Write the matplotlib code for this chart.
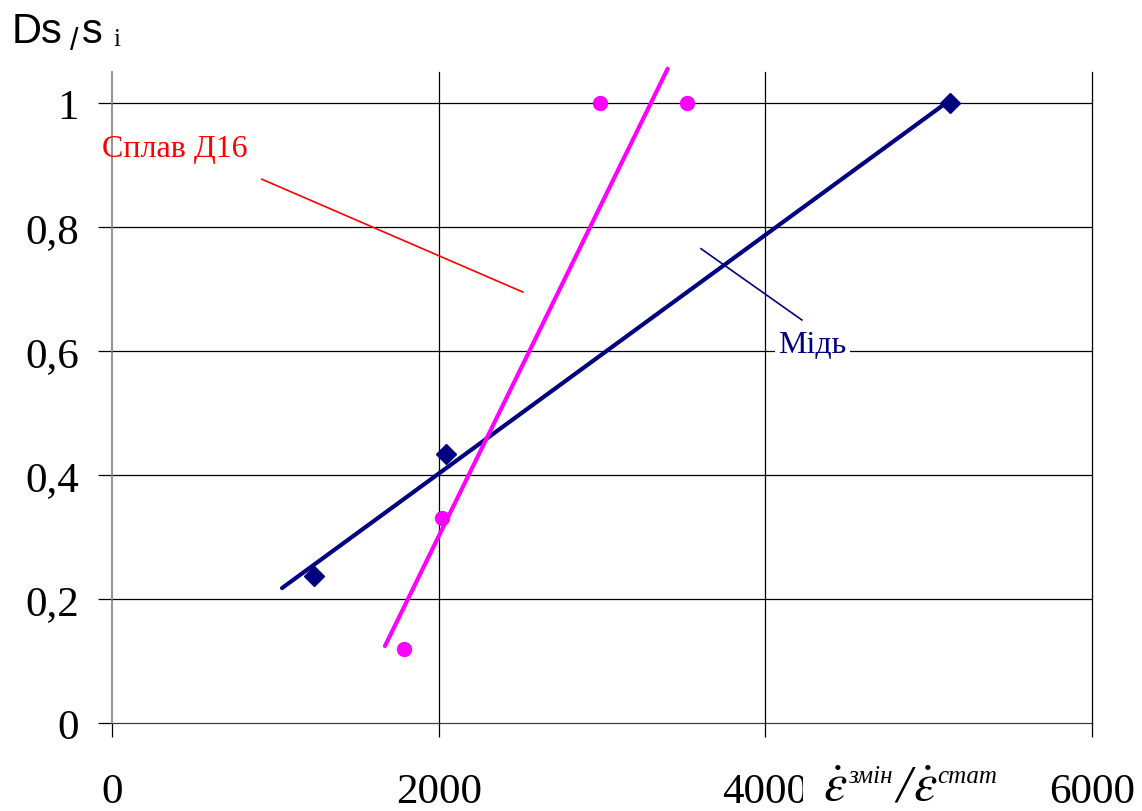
import numpy as np
import matplotlib
matplotlib.use("Agg")
import matplotlib.pyplot as plt
from matplotlib.patches import Rectangle

# ---- data ----
copper_x = [1237, 2045, 5131]
copper_y = [0.237, 0.434, 1.0]
alloy_x = [1788, 2020, 2988, 3520]
alloy_y = [0.119, 0.331, 1.0, 1.0]
# trend line x-ranges (as drawn in the original)
copper_trend_x = [1041, 5131]
alloy_trend_x = [1671, 3402]

xticks = [0, 2000, 4000, 6000]
yticks = [0, 0.2, 0.4, 0.6, 0.8, 1.0]
yticklabels = ["0", "0,2", "0,4", "0,6", "0,8", "1"]

W, H = 1142, 812
plt.rcParams["mathtext.fontset"] = "stix"
fig = plt.figure(figsize=(W / 100, H / 100), dpi=100)
ax = fig.add_axes([112 / W, (H - 724) / H, 980 / W, 651 / H])
ax.set_xlim(0, 6000)
ax.set_ylim(0, 1.05)

for s in ["top", "right", "bottom"]:
    ax.spines[s].set_visible(False)
ax.spines["left"].set_color("#808080")
ax.spines["left"].set_linewidth(1.2)

# grid lines
for yv in yticks:
    ax.axhline(yv, color="black" if yv > 0 else "#404040", lw=0.9, zorder=1, clip_on=False)
for xv in xticks[1:]:
    ax.axvline(xv, color="black", lw=0.9, zorder=1, clip_on=False)

ax.set_xticks(xticks)
ax.set_xticklabels([str(v) for v in xticks])
ax.set_yticks(yticks)
ax.set_yticklabels(yticklabels)
serif = "Liberation Serif"
ax.tick_params(axis="both", direction="out", length=10, width=0.9, color="black",
               labelsize=31)
ax.tick_params(axis="y", pad=14)
ax.tick_params(axis="x", pad=26)
for lab in ax.get_xticklabels() + ax.get_yticklabels():
    lab.set_fontfamily(serif)

# trend lines (linear fits)
cp = np.polyfit(copper_x, copper_y, 1)
ap = np.polyfit(alloy_x, alloy_y, 1)
ctx = np.array(copper_trend_x)
atx = np.array(alloy_trend_x)
ax.plot(ctx, np.polyval(cp, ctx), color="#000080", lw=3, zorder=3, solid_capstyle="round")
ax.plot(atx, np.polyval(ap, atx), color="#FF00FF", lw=3, zorder=3, solid_capstyle="round",
        clip_on=False)

# markers
ax.plot(copper_x, copper_y, linestyle="none", marker="D", ms=10.5, color="#000080", zorder=4,
        clip_on=False)
ax.plot(alloy_x, alloy_y, linestyle="none", marker="o", ms=10, color="#FF00FF", zorder=4,
        clip_on=False)

# annotations
ax.plot([918, 2516], [0.877, 0.695], color="#FF0000", lw=1.2, zorder=5)
ax.text(-61, 0.915, "Сплав Д16", color="#FF0000", fontsize=23, fontfamily=serif,
        ha="left", va="baseline", zorder=6)
ax.plot([3606, 4224], [0.765, 0.650], color="#000080", lw=1.2, zorder=5)
ax.text(4078, 0.598, "Мідь", color="#000080", fontsize=23, fontfamily=serif,
        ha="left", va="baseline", zorder=6,
        bbox=dict(facecolor="white", edgecolor="none", boxstyle="square,pad=0.1"))

def ftext(x, y, s, **kw):
    return fig.text(x / W, 1 - y / H, s, **kw)

# y label
ftext(12, 43, "Ds", fontsize=30, fontfamily="Liberation Sans", va="baseline", ha="left")
ftext(70, 50, "/", fontsize=22, fontfamily="Liberation Sans", va="baseline", ha="left")
ftext(82, 43, "s", fontsize=30, fontfamily="Liberation Sans", va="baseline", ha="left")
ftext(113, 46, "i", fontsize=18, fontfamily=serif, va="baseline", ha="left")

# x label (white box clipping the "4000" label like the original)
fig.patches.append(Rectangle((803 / W, 0), 200 / W, 62 / H, transform=fig.transFigure,
                             facecolor="white", edgecolor="none", zorder=2))
kw = dict(va="baseline", ha="left", zorder=3)
ftext(823, 801, r"$\dot{\varepsilon}$", fontsize=38, **kw)
ftext(848, 783, "змін", fontsize=18, fontfamily=serif, style="italic", **kw)
ftext(896, 802, "/", fontsize=38, fontfamily=serif, style="italic", **kw)
ftext(913, 801, r"$\dot{\varepsilon}$", fontsize=38, **kw)
ftext(937, 783, "стат", fontsize=18, fontfamily=serif, style="italic", **kw)

fig.savefig("out.png", dpi=100)
